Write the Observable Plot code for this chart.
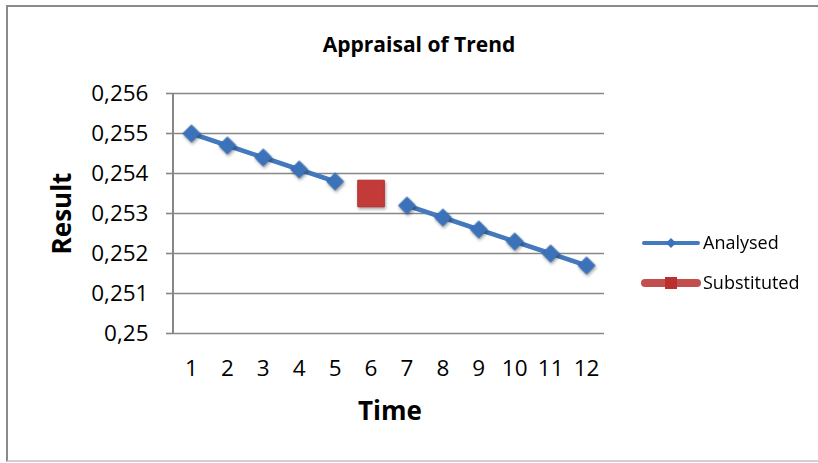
<!DOCTYPE html>
<html>
<head>
<meta charset="utf-8">
<script src="https://cdn.jsdelivr.net/npm/d3@7"></script>
<script src="https://cdn.jsdelivr.net/npm/@observablehq/plot@0.6"></script>
<style>
  html, body { margin: 0; padding: 0; background: #fff; }
  #wrap { position: relative; width: 818px; height: 463px; overflow: hidden; font-family: "Open Sans", sans-serif; }
  #border { position: absolute; left: 6px; top: 5px; width: 830px; height: 457px; border: 2px solid #8a8a8a; border-right: none; border-bottom-color: #d0d0d0; box-sizing: border-box; }
  #legend { position: absolute; left: 640px; top: 228px; font-size: 18px; color: #000; }
  .row { position: absolute; left: 0; height: 30px; width: 180px; }
  .row svg { position: absolute; left: 0; top: 0; }
  .row span { position: absolute; left: 63px; top: 2px; white-space: nowrap; }
</style>
</head>
<body>
<div id="wrap">
  <div id="border"></div>
  <div id="chart"></div>
  <div id="legend"></div>
</div>
<script>
// ---- data ----
const times = [1, 2, 3, 4, 5, 6, 7, 8, 9, 10, 11, 12];
const analysed = [0.2550, 0.2547, 0.2544, 0.2541, 0.2538, null, 0.2532, 0.2529, 0.2526, 0.2523, 0.2520, 0.2517];
const substituted = [null, null, null, null, null, 0.25350, null, null, null, null, null, null];
const yTicks = [0.250, 0.251, 0.252, 0.253, 0.254, 0.255, 0.256];
const seriesNames = ["Analysed", "Substituted"];
const titleText = "Appraisal of Trend";
const xTitle = "Time";
const yTitle = "Result";

const blue = "#4479BD";
const blueMarker = "#3B72BA";
const red = "#C23B39";

const rowsA = times.map((t, i) => ({time: t, value: analysed[i]}));
const rowsS = times.map((t, i) => ({time: t, value: substituted[i]})).filter(d => d.value != null);

const fmt = d3.formatLocale({decimal: ",", thousands: ".", grouping: [3], currency: ["", ""]}).format(".3~f");

const gray = "#878787";

const leftAxisLine = (index, scales, values, dims) => {
  const g = d3.create("svg:line")
    .attr("x1", dims.marginLeft).attr("x2", dims.marginLeft)
    .attr("y1", dims.marginTop).attr("y2", dims.height - dims.marginBottom)
    .attr("stroke", gray).attr("stroke-width", 2);
  return g.node();
};

const chart = Plot.plot({
  width: 818,
  height: 463,
  marginLeft: 173,
  marginRight: 214,
  marginTop: 93,
  marginBottom: 130,
  style: {fontFamily: "Open Sans, sans-serif", background: "transparent", overflow: "visible"},
  x: {type: "point", domain: times, padding: 0.5, round: false},
  y: {domain: [0.25, 0.256]},
  marks: [
    Plot.gridY(yTicks, {stroke: gray, strokeWidth: 1.6, strokeOpacity: 1}),
    Plot.axisY(yTicks, {tickFormat: fmt, tickSize: 7, tickPadding: 18, fontSize: 22.5, stroke: gray, strokeWidth: 1.6, color: "#000", label: null}),
    Plot.axisX(times, {tickSize: 0, tickPadding: 27, fontSize: 22.5, label: null, color: "#000"}),
    leftAxisLine,
    Plot.lineY(rowsA, {x: "time", y: "value", stroke: blue, strokeWidth: 4.5}),
    Plot.dot(rowsA.filter(d => d.value != null), {x: "time", y: "value", symbol: "diamond2", r: 7.8, fill: blueMarker, stroke: "#3569AE", strokeWidth: 0.8}),
    Plot.dot(rowsS, {x: "time", y: "value", symbol: "square", r: 15, fill: red, stroke: "#B2302F", strokeWidth: 1}),
    Plot.text([titleText], {frameAnchor: "top", dx: 30, dy: -48, fontSize: 21, fontWeight: "bold", fill: "#000", lineAnchor: "middle"}),
    Plot.text([xTitle], {frameAnchor: "bottom", dx: 1, dy: 78, fontSize: 26, fontWeight: "bold", fill: "#000", lineAnchor: "middle"}),
    Plot.text([yTitle], {frameAnchor: "left", dx: -111, rotate: -90, fontSize: 26, fontWeight: "bold", fill: "#000", lineAnchor: "middle", textAnchor: "middle"})
  ]
});

d3.select(chart).selectAll('g[aria-label="dot"]').style("filter", "drop-shadow(1px 2px 1.5px rgba(0,0,0,0.35))");
document.getElementById("chart").appendChild(chart);

// ---- legend ----
const legend = d3.select("#legend");
const r1 = legend.append("div").attr("class", "row").style("top", "0px");
const s1 = r1.append("svg").attr("width", 62).attr("height", 30);
s1.append("line").attr("x1", 4).attr("x2", 58).attr("y1", 15).attr("y2", 15).attr("stroke", blue).attr("stroke-width", 4).attr("stroke-linecap", "round");
s1.append("path").attr("d", "M31,10 L36,15 L31,20 L26,15 Z").attr("fill", blueMarker);
r1.append("span").text(seriesNames[0]);

const r2 = legend.append("div").attr("class", "row").style("top", "40px");
const s2 = r2.append("svg").attr("width", 62).attr("height", 30);
s2.append("line").attr("x1", 5).attr("x2", 57).attr("y1", 15).attr("y2", 15).attr("stroke", "#C24F4D").attr("stroke-width", 8).attr("stroke-linecap", "round");
s2.append("rect").attr("x", 25).attr("y", 9).attr("width", 12).attr("height", 12).attr("fill", "#B8302F");
r2.append("span").text(seriesNames[1]);
</script>
</body>
</html>
